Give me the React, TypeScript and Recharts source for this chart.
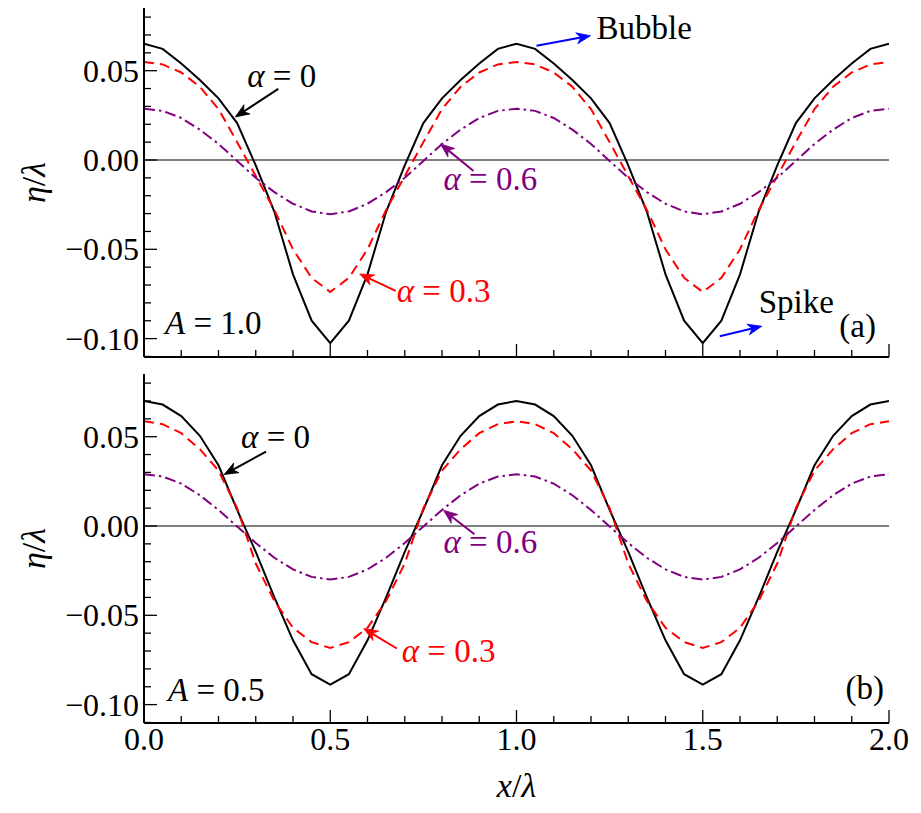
import type { ReactNode } from "react";
import { Line, LineChart, ReferenceDot, ReferenceLine, XAxis, YAxis } from "recharts";

// x / lambda sample positions (two wavelengths)
const xValues = [
	0, 0.05, 0.1, 0.15, 0.2, 0.25, 0.3, 0.35, 0.4, 0.45, 0.5, 0.55, 0.6, 0.65, 0.7, 0.75, 0.8, 0.85, 0.9, 0.95, 1,
	1.05, 1.1, 1.15, 1.2, 1.25, 1.3, 1.35, 1.4, 1.45, 1.5, 1.55, 1.6, 1.65, 1.7, 1.75, 1.8, 1.85, 1.9, 1.95, 2,
];

// panel (a), A = 1.0
const etaA_alpha0 = [
	0.0651, 0.0622, 0.054, 0.0448, 0.0345, 0.0207, -0.003, -0.029, -0.064, -0.09, -0.1026,
	-0.09, -0.064, -0.029, -0.003, 0.0207, 0.0345, 0.0448, 0.054, 0.0622, 0.0651,
	0.0622, 0.054, 0.0448, 0.0345, 0.0207, -0.003, -0.029, -0.064, -0.09, -0.1026,
	-0.09, -0.064, -0.029, -0.003, 0.0207, 0.0345, 0.0448, 0.054, 0.0622, 0.0651,
];
const etaA_alpha03 = [
	0.0549, 0.0535, 0.049, 0.041, 0.0285, 0.01, -0.009, -0.028, -0.05, -0.066, -0.0739,
	-0.066, -0.05, -0.028, -0.009, 0.01, 0.0285, 0.041, 0.049, 0.0535, 0.0549,
	0.0535, 0.049, 0.041, 0.0285, 0.01, -0.009, -0.028, -0.05, -0.066, -0.0739,
	-0.066, -0.05, -0.028, -0.009, 0.01, 0.0285, 0.041, 0.049, 0.0535, 0.0549,
];
const etaA_alpha06 = [
	0.0287, 0.0275, 0.0235, 0.017, 0.009, -0.0005, -0.01, -0.018, -0.0245, -0.0288, -0.0304,
	-0.0288, -0.0245, -0.018, -0.01, -0.0005, 0.009, 0.017, 0.0235, 0.0275, 0.0287,
	0.0275, 0.0235, 0.017, 0.009, -0.0005, -0.01, -0.018, -0.0245, -0.0288, -0.0304,
	-0.0288, -0.0245, -0.018, -0.01, -0.0005, 0.009, 0.017, 0.0235, 0.0275, 0.0287,
];

// panel (b), A = 0.5
const etaB_alpha0 = [
	0.07, 0.068, 0.0615, 0.0505, 0.034, 0.009, -0.0145, -0.04, -0.064, -0.083, -0.0888,
	-0.083, -0.064, -0.04, -0.0145, 0.009, 0.034, 0.0505, 0.0615, 0.068, 0.07,
	0.068, 0.0615, 0.0505, 0.034, 0.009, -0.0145, -0.04, -0.064, -0.083, -0.0888,
	-0.083, -0.064, -0.04, -0.0145, 0.009, 0.034, 0.0505, 0.0615, 0.068, 0.07,
];
const etaB_alpha03 = [
	0.0586, 0.057, 0.052, 0.043, 0.031, 0.01, -0.021, -0.042, -0.057, -0.065, -0.0683,
	-0.065, -0.057, -0.042, -0.021, 0.01, 0.031, 0.043, 0.052, 0.057, 0.0586,
	0.057, 0.052, 0.043, 0.031, 0.01, -0.021, -0.042, -0.057, -0.065, -0.0683,
	-0.065, -0.057, -0.042, -0.021, 0.01, 0.031, 0.043, 0.052, 0.057, 0.0586,
];
const etaB_alpha06 = [
	0.029, 0.0277, 0.0237, 0.0172, 0.009, -0.0003, -0.0095, -0.0178, -0.0243, -0.0285, -0.03,
	-0.0285, -0.0243, -0.0178, -0.0095, -0.0003, 0.009, 0.0172, 0.0237, 0.0277, 0.029,
	0.0277, 0.0237, 0.0172, 0.009, -0.0003, -0.0095, -0.0178, -0.0243, -0.0285, -0.03,
	-0.0285, -0.0243, -0.0178, -0.0095, -0.0003, 0.009, 0.0172, 0.0237, 0.0277, 0.029,
];

const xTicks = [0, 0.1, 0.2, 0.3, 0.4, 0.5, 0.6, 0.7, 0.8, 0.9, 1, 1.1, 1.2, 1.3, 1.4, 1.5, 1.6, 1.7, 1.8, 1.9, 2];
const xMajor = [0, 0.5, 1, 1.5, 2];
const xTickLabels = ["0.0", "0.5", "1.0", "1.5", "2.0"];
const yTicks = [-0.11, -0.1, -0.09, -0.08, -0.07, -0.06, -0.05, -0.04, -0.03, -0.02, -0.01, 0, 0.01, 0.02, 0.03, 0.04, 0.05, 0.06, 0.07, 0.08];
const yMajor = [-0.1, -0.05, 0, 0.05];
const yTickLabels = ["\u22120.10", "\u22120.05", "0.00", "0.05"];
const yDomain: [number, number] = [-0.1103, 0.0851];
const xDomain: [number, number] = [0, 2];

const FONT = "Liberation Serif";
const FS = 32;
const NOTE_FS = 33;
const PLOT_LEFT = 144;
const BLACK = "#000000";
const RED = "#ff0000";
const PURPLE = "#800080";
const BLUE = "#0000ff";
const textStyle = { fontFamily: FONT };

const dataA = xValues.map((x, i) => ({ x, a0: etaA_alpha0[i], a3: etaA_alpha03[i], a6: etaA_alpha06[i] }));
const dataB = xValues.map((x, i) => ({ x, a0: etaB_alpha0[i], a3: etaB_alpha03[i], a6: etaB_alpha06[i] }));

const findMajor = (list: number[], v: number) => list.findIndex((m) => Math.abs(m - v) < 1e-9);

function YTick(props: any) {
	const { y, payload } = props;
	const i = findMajor(yMajor, payload.value);
	return (
		<g>
			<line x1={PLOT_LEFT} x2={PLOT_LEFT + (i >= 0 ? 13 : 7)} y1={y} y2={y} stroke={BLACK} strokeWidth={1.3} />
			{i >= 0 && (
				<text x={PLOT_LEFT - 5} y={y + 11} textAnchor="end" fontFamily={FONT} style={textStyle} fontSize={FS} fill={BLACK}>
					{yTickLabels[i]}
				</text>
			)}
		</g>
	);
}

function makeXTick(bottom: number, labels: boolean) {
	return (props: any) => {
		const { x, payload } = props;
		const i = findMajor(xMajor, payload.value);
		return (
			<g>
				<line x1={x} x2={x} y1={bottom} y2={bottom - (i >= 0 ? 13 : 7)} stroke={BLACK} strokeWidth={1.3} />
				{labels && i >= 0 && (
					<text x={x} y={bottom + 27} textAnchor="middle" fontFamily={FONT} style={textStyle} fontSize={FS} fill={BLACK}>
						{xTickLabels[i]}
					</text>
				)}
			</g>
		);
	};
}

type Note = {
	x: number;
	y: number;
	text: ReactNode;
	color: string;
	tx: number;
	ty: number;
	anchor?: "start" | "end";
	arrow?: { from: [number, number]; to: [number, number]; color: string };
};

function Arrow({ x1, y1, x2, y2, color }: { x1: number; y1: number; x2: number; y2: number; color: string }) {
	const dx = x2 - x1;
	const dy = y2 - y1;
	const len = Math.hypot(dx, dy);
	const ux = dx / len;
	const uy = dy / len;
	const hl = 14;
	const hw = 5.5;
	const bx = x2 - ux * hl;
	const by = y2 - uy * hl;
	const nx = x2 - ux * hl * 0.7;
	const ny = y2 - uy * hl * 0.7;
	const pts = `${x2},${y2} ${bx - uy * hw},${by + ux * hw} ${nx},${ny} ${bx + uy * hw},${by - ux * hw}`;
	return (
		<g>
			<line x1={x1} y1={y1} x2={nx} y2={ny} stroke={color} strokeWidth={2} />
			<polygon points={pts} fill={color} stroke={color} strokeWidth={0.8} strokeLinejoin="miter" />
		</g>
	);
}

function NoteShape({ cx, cy, note }: { cx: number; cy: number; note: Note }) {
	return (
		<g>
			{note.arrow && (
				<Arrow
					x1={cx + note.arrow.from[0]}
					y1={cy + note.arrow.from[1]}
					x2={cx + note.arrow.to[0]}
					y2={cy + note.arrow.to[1]}
					color={note.arrow.color}
				/>
			)}
			<text
				x={cx + note.tx}
				y={cy + note.ty}
				textAnchor={note.anchor ?? "start"}
				fontFamily={FONT}
				style={textStyle}
				fontSize={NOTE_FS}
				fill={note.color}
			>
				{note.text}
			</text>
		</g>
	);
}

const alphaText = (v: string) => (
	<>
		<tspan fontStyle="italic">α</tspan> = {v}
	</>
);
const ampText = (v: string) => (
	<>
		<tspan fontStyle="italic">A</tspan> = {v}
	</>
);

const notesA: Note[] = [
	{ x: 0.245, y: 0.0241, text: alphaText("0"), color: BLACK, tx: 12, ty: -30, arrow: { from: [43, -28], to: [0, 0], color: BLACK } },
	{ x: 0.796, y: 0.009, text: alphaText("0.6"), color: PURPLE, tx: 3, ty: 46, arrow: { from: [33, 27], to: [0, 0], color: PURPLE } },
	{ x: 0.579, y: -0.0638, text: alphaText("0.3"), color: RED, tx: 37, ty: 28, arrow: { from: [36, 17], to: [0, 0], color: RED } },
	{ x: 1.0, y: 0.0651, text: "Bubble", color: BLACK, tx: 80, ty: -5, arrow: { from: [20, 2], to: [74, -8], color: BLUE } },
	{ x: 1.5, y: -0.1026, text: "Spike", color: BLACK, tx: 56, ty: -30, arrow: { from: [17, -7], to: [59, -17], color: BLUE } },
	{ x: 0, y: yDomain[0], text: ampText("1.0"), color: BLACK, tx: 21, ty: -23 },
	{ x: 2, y: yDomain[0], text: "(a)", color: BLACK, tx: -13, ty: -20, anchor: "end" },
];

const notesB: Note[] = [
	{ x: 0.215, y: 0.0288, text: alphaText("0"), color: BLACK, tx: 17, ty: -27, arrow: { from: [42, -23], to: [0, 0], color: BLACK } },
	{ x: 0.804, y: 0.0088, text: alphaText("0.6"), color: PURPLE, tx: 0, ty: 43, arrow: { from: [31, 24], to: [0, 0], color: PURPLE } },
	{ x: 0.59, y: -0.0574, text: alphaText("0.3"), color: RED, tx: 38, ty: 33, arrow: { from: [33, 20], to: [0, 0], color: RED } },
	{ x: 0, y: yDomain[0], text: ampText("0.5"), color: BLACK, tx: 24, ty: -22 },
	{ x: 2, y: yDomain[0], text: "(b)", color: BLACK, tx: -5, ty: -24, anchor: "end" },
];

function YLabel(props: any) {
	const vb = props.viewBox ?? { x: 0, y: 8, width: 144, height: 349 };
	const cx = 33;
	const cy = vb.y + vb.height / 2;
	return (
		<text
			x={cx}
			y={cy}
			transform={`rotate(-90, ${cx}, ${cy})`}
			textAnchor="middle"
			dominantBaseline="central"
			fontFamily={FONT}
			style={textStyle}
			fontSize={34}
			fill={BLACK}
		>
			<tspan fontStyle="italic">η</tspan>/<tspan fontStyle="italic">λ</tspan>
		</text>
	);
}

function XLabel(props: any) {
	const vb = props.viewBox ?? { x: 144, y: 358, width: 745, height: 90 };
	return (
		<text
			x={vb.x + vb.width / 2}
			y={vb.y + 74}
			textAnchor="middle"
			fontFamily={FONT}
			style={textStyle}
			fontSize={34}
			fill={BLACK}
		>
			<tspan fontStyle="italic">x</tspan>/<tspan fontStyle="italic">λ</tspan>
		</text>
	);
}

type PanelProps = {
	data: typeof dataA;
	notes: Note[];
	height: number;
	marginTop: number;
	xAxisHeight: number;
	bottomLabels: boolean;
};

function Panel({ data, notes, height, marginTop, xAxisHeight, bottomLabels }: PanelProps) {
	const plotBottom = height - xAxisHeight;
	return (
		<LineChart width={921} height={height} data={data} margin={{ top: marginTop, right: 32, bottom: 0, left: 0 }}>
			<XAxis
				xAxisId="main"
				type="number"
				dataKey="x"
				domain={xDomain}
				ticks={xTicks}
				interval={0}
				allowDataOverflow
				height={xAxisHeight}
				axisLine={{ stroke: BLACK, strokeWidth: 2 }}
				tickLine={false}
				tick={makeXTick(plotBottom, bottomLabels)}
				label={bottomLabels ? (p: any) => <XLabel {...p} /> : undefined}
			/>
			<XAxis
				xAxisId="top"
				orientation="top"
				type="number"
				domain={xDomain}
				height={0}
				tick={false}
				tickLine={false}
				axisLine={{ stroke: BLACK, strokeWidth: 2 }}
			/>
			<YAxis
				yAxisId="main"
				type="number"
				domain={yDomain}
				ticks={yTicks}
				interval={0}
				allowDataOverflow
				width={PLOT_LEFT}
				axisLine={{ stroke: BLACK, strokeWidth: 2 }}
				tickLine={false}
				tick={(p: any) => <YTick {...p} />}
				label={(p: any) => <YLabel {...p} />}
			/>
			<YAxis
				yAxisId="right"
				orientation="right"
				type="number"
				domain={yDomain}
				width={0}
				tick={false}
				tickLine={false}
				axisLine={{ stroke: BLACK, strokeWidth: 2 }}
			/>
			<ReferenceLine xAxisId="main" yAxisId="main" y={0} stroke="#808080" strokeWidth={2} />
			<Line
				xAxisId="main"
				yAxisId="main"
				type="linear"
				dataKey="a0"
				stroke={BLACK}
				strokeWidth={2}
				dot={false}
				isAnimationActive={false}
			/>
			<Line
				xAxisId="main"
				yAxisId="main"
				type="linear"
				dataKey="a3"
				stroke={RED}
				strokeWidth={2}
				strokeDasharray="10 6"
				dot={false}
				isAnimationActive={false}
			/>
			<Line
				xAxisId="main"
				yAxisId="main"
				type="linear"
				dataKey="a6"
				stroke={PURPLE}
				strokeWidth={2}
				strokeDasharray="11 4 2.5 4"
				dot={false}
				isAnimationActive={false}
			/>
			{notes.map((n, i) => (
				<ReferenceDot
					key={i}
					xAxisId="main"
					yAxisId="main"
					x={n.x}
					y={n.y}
					r={0}
					ifOverflow="visible"
					shape={(p: any) => <NoteShape cx={p.cx} cy={p.cy} note={n} />}
				/>
			))}
		</LineChart>
	);
}

export default function App() {
	return (
		<div style={{ position: "absolute", left: 0, top: 0, width: 921, height: 813, background: "#fff" }}>
			<div style={{ position: "absolute", left: 0, top: 0 }}>
				<Panel data={dataA} notes={notesA} height={370} marginTop={8} xAxisHeight={13} bottomLabels={false} />
			</div>
			<div style={{ position: "absolute", left: 0, top: 365 }}>
				<Panel data={dataB} notes={notesB} height={448} marginTop={9} xAxisHeight={90} bottomLabels />
			</div>
		</div>
	);
}
